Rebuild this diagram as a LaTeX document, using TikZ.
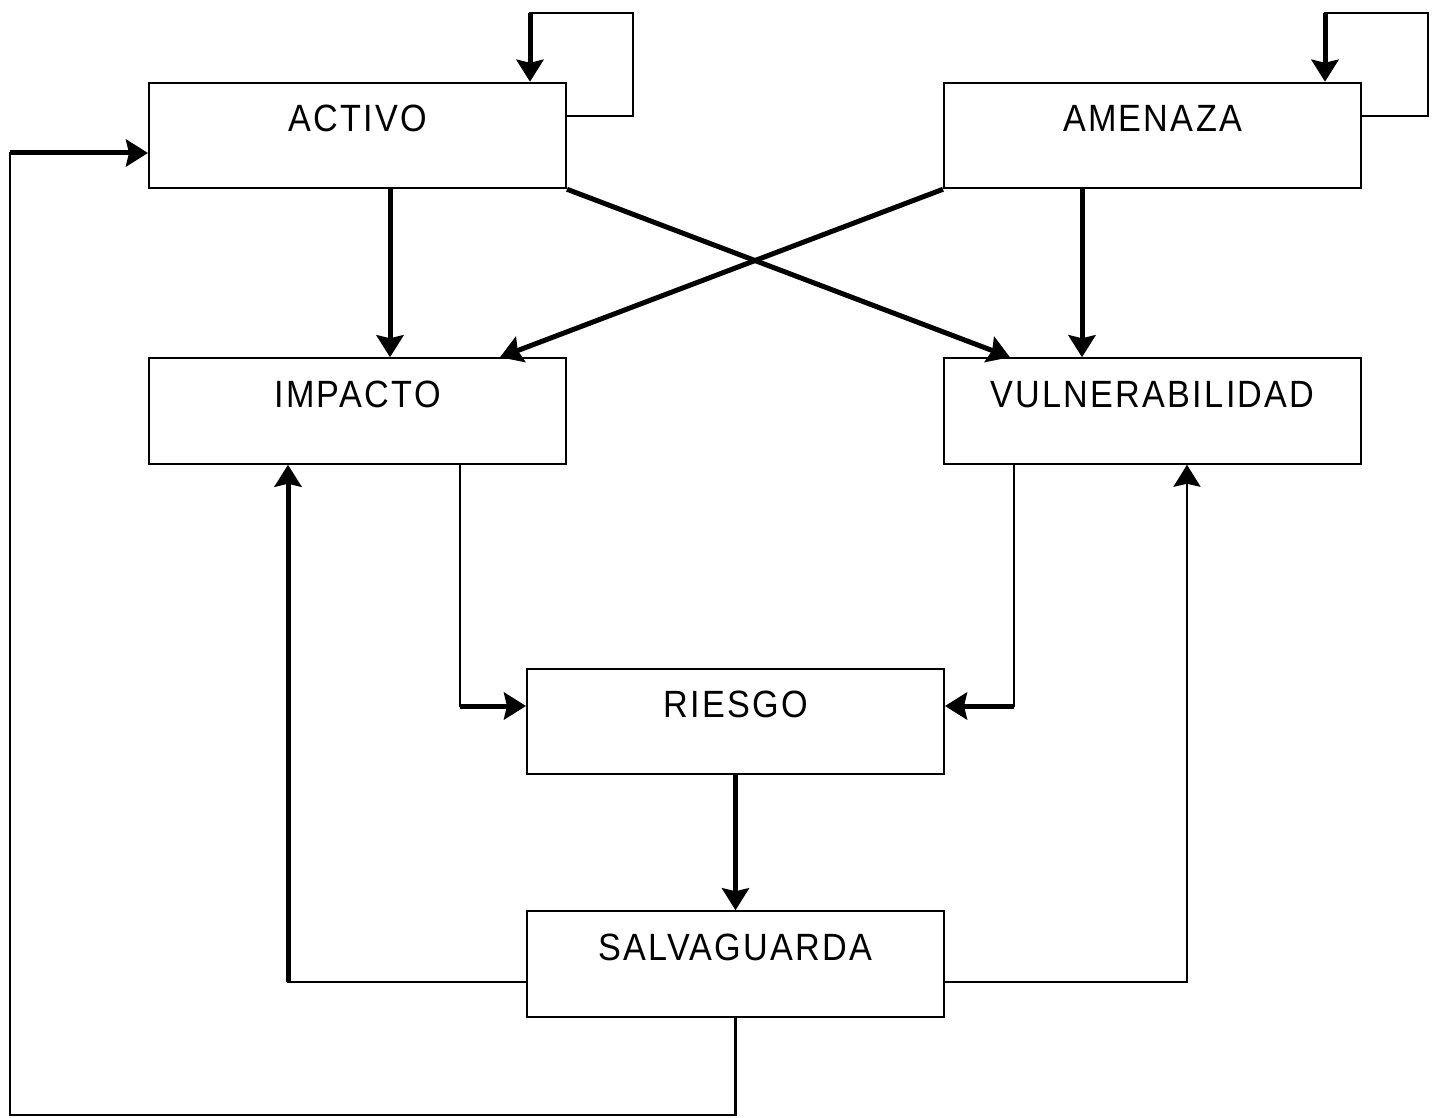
\documentclass[tikz,border=0pt]{standalone}
\usepackage{fontspec}
\setmainfont{Liberation Sans}[FakeStretch=0.9,LetterSpace=6]
\usetikzlibrary{arrows.meta}
\begin{document}
\begin{tikzpicture}[x=0.5pt,y=-0.5pt,
 box/.style={draw, line width=1pt, minimum width=208.5pt, minimum height=52.75pt, inner sep=0pt,
   text height=13.6pt, text depth=17.5pt, font=\fontsize{19}{22}\selectfont},
 thinline/.style={line width=1.2pt, line cap=rect},
 thickline/.style={line width=2.5pt},
 tip/.style={-{Stealth[length=11pt,width=13.5pt,inset=1.5pt]}}
]
\useasboundingbox (0,0) rectangle (1436,1118);

\node[box] (activo)  at (357.5,135.5) {ACTIVO};
\node[box] (amenaza) at (1152.5,135.5) {AMENAZA};
\node[box] (impacto) at (357.5,411) {IMPACTO};
\node[box] (vuln)    at (1152.5,411) {VULNERABILIDAD};
\node[box] (riesgo)  at (735.5,721.5) {RIESGO};
\node[box] (salv)    at (735.5,964) {SALVAGUARDA};

% self loops
\coordinate (a1) at (633,116); \coordinate (a2) at (633,13); \coordinate (a3) at (530,13);
\draw[thinline] (activo.east |- a1) -- (a1) -- (a2) -- (a3);
\draw[thickline,tip] (a3) -- (activo.north -| a3);
\coordinate (m1) at (1428,116); \coordinate (m2) at (1428,13); \coordinate (m3) at (1325,13);
\draw[thinline] (amenaza.east |- m1) -- (m1) -- (m2) -- (m3);
\draw[thickline,tip] (m3) -- (amenaza.north -| m3);

% feedback to activo
\coordinate (f2) at (10,1115); \coordinate (f3) at (10,153);
\draw[thinline] (salv.south) |- (f2) -- (f3);
\draw[thickline,tip] (f3) -- (activo.west |- f3);

% salvaguarda to impacto / vulnerabilidad
\coordinate (s1) at (288,982);
\draw[thinline] (salv.west |- s1) -- (s1);
\draw[thickline,tip] (s1) -- (impacto.south -| s1);
\coordinate (s2) at (1187,982);
\draw[thinline,line cap=butt,tip] (salv.east |- s2) -| (vuln.south -| s2);

% impacto / vulnerabilidad to riesgo
\coordinate (i1) at (460,706);
\draw[thinline] (impacto.south -| i1) -- (i1);
\draw[thickline,tip] (i1) -- (riesgo.west |- i1);
\coordinate (v1) at (1014,706);
\draw[thinline] (vuln.south -| v1) -- (v1);
\draw[thickline,tip] (v1) -- (riesgo.east |- v1);

% riesgo to salvaguarda
\draw[thickline,tip] (riesgo.south) -- (salv.north);

% verticals from activo / amenaza
\coordinate (c1) at (390,300); \coordinate (c2) at (1082,300);
\draw[thickline,tip] (activo.south -| c1) -- (impacto.north -| c1);
\draw[thickline,tip] (amenaza.south -| c2) -- (vuln.north -| c2);

% diagonals
\coordinate (d1) at (1010,300); \coordinate (d2) at (500,300);
\draw[thickline,tip] (activo.south east) -- (vuln.north -| d1);
\draw[thickline,tip] (amenaza.south west) -- (impacto.north -| d2);
\end{tikzpicture}
\end{document}
